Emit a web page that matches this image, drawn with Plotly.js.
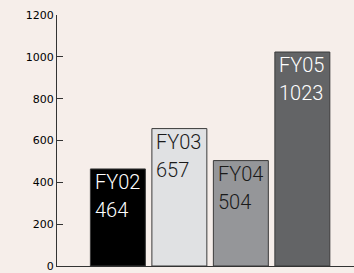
<!DOCTYPE html>
<html>
<head>
<meta charset="utf-8">
<script src="https://cdn.plot.ly/plotly-3.0.1.min.js"></script>
<style>html,body{margin:0;padding:0;background:#f6eeea;}#chart{width:354px;height:273px;}</style>
</head>
<body>
<div id="chart"></div>
<script>
const categories = ["FY02", "FY03", "FY04", "FY05"];
const values = [464, 657, 504, 1023];
const barColors = ["#000000", "#e0e1e3", "#959699", "#636466"];
const textColors = ["#ffffff", "#1a1a1a", "#1a1a1a", "#ffffff"];
const yTicks = [0, 200, 400, 600, 800, 1000, 1200];

const trace = {
  type: "bar",
  x: categories,
  y: values,
  marker: {color: barColors, line: {color: "#3a3a3a", width: 1}},
  hoverinfo: "none"
};

const labelFont = (i) => ({family: "Roboto, sans-serif", weight: 300, size: 20, color: textColors[i]});
const annotations = [];
categories.forEach((c, i) => {
  annotations.push({
    x: c, y: values[i], xref: "x", yref: "y", text: c,
    showarrow: false, xanchor: "left", yanchor: "top", yshift: 1, xshift: -25,
    font: labelFont(i)
  });
  annotations.push({
    x: c, y: values[i], xref: "x", yref: "y", text: String(values[i]),
    showarrow: false, xanchor: "left", yanchor: "top", yshift: -27, xshift: -25,
    font: labelFont(i)
  });
});

const layout = {
  width: 354, height: 273,
  margin: {l: 57, r: 0, t: 15, b: 7},
  paper_bgcolor: "#f6eeea", plot_bgcolor: "#f6eeea",
  showlegend: false,
  bargap: 0.106,
  xaxis: {
    type: "category", range: [-0.99, 3.84],
    showticklabels: false, ticks: "", showgrid: false, zeroline: false,
    showline: true, linecolor: "#333333", linewidth: 1
  },
  yaxis: {
    range: [0, 1200], tickvals: yTicks, ticktext: yTicks.map(String),
    ticks: "inside", ticklen: 6, tickcolor: "#333333", tickwidth: 1,
    showgrid: false, zeroline: false,
    showline: true, linecolor: "#333333", linewidth: 1,
    tickfont: {family: "DejaVu Sans, sans-serif", size: 11, color: "#000000"}
  },
  annotations: annotations
};

Plotly.newPlot("chart", [trace], layout, {staticPlot: true, displayModeBar: false});
</script>
</body>
</html>
